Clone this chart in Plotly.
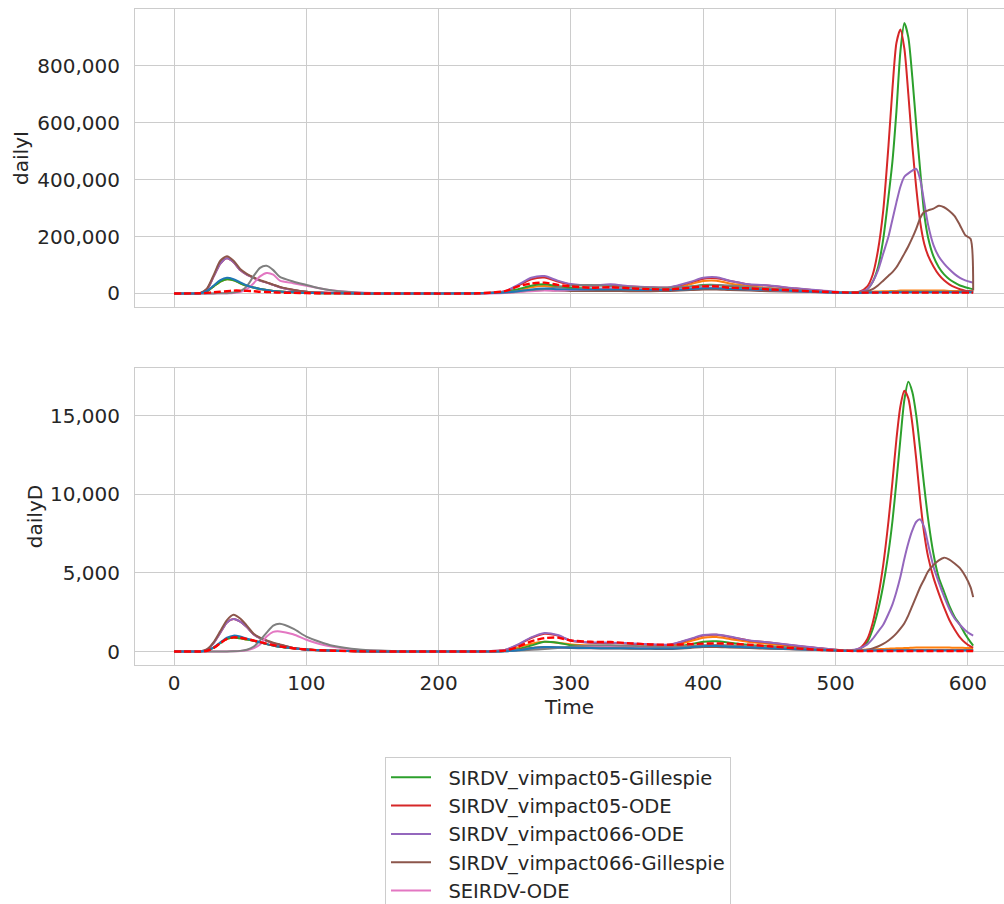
import plotly.graph_objects as go

# Simulation day grid shared by every series
T = [0, 20, 25, 30, 35, 40, 45, 50, 55, 60,
     65, 70, 75, 80, 90, 100, 110, 120, 140, 170,
     230, 250, 260, 270, 280, 290, 300, 315, 330, 345,
     360, 375, 390, 400, 410, 420, 435, 450, 470, 490,
     510, 518, 524, 528, 532, 536, 540, 543, 546, 549,
     552, 555, 558, 561, 564, 567, 570, 574, 578, 582,
     586, 590, 594, 598, 602, 604]

# ---- daily infections (dailyI) ----
green_I = [0, 1000, 8000, 25000, 42000, 50000, 46000, 36000, 27000, 21000,
           16000, 12000, 9000, 7000, 4000, 2000, 1000, 500, 200, 0,
           500, 5000, 15000, 27000, 32000, 25000, 20000, 17000, 17000, 15000,
           14000, 16000, 24000, 30000, 30000, 24000, 18000, 15000, 10000, 5000,
           2000, 4000, 15000, 40000, 90000, 190000, 340000, 465000, 640000, 850000,
           950000, 900000, 760000, 590000, 430000, 280000, 195000, 130000, 92000, 67000,
           50000, 38000, 28000, 22000, 17000, 15000]
red_I = [0, 2000, 15000, 60000, 105000, 124000, 110000, 82000, 66000, 55000,
         45000, 38000, 30000, 22000, 12000, 6000, 3000, 1500, 500, 100,
         500, 7000, 27000, 50000, 56000, 42000, 31000, 27000, 30000, 24000,
         21000, 21000, 38000, 52000, 53000, 44000, 31000, 27000, 17000, 9000,
         2000, 6000, 25000, 65000, 150000, 290000, 520000, 720000, 880000, 928000,
         860000, 700000, 520000, 370000, 250000, 175000, 132000, 95000, 66000, 46000,
         32000, 22000, 15000, 10000, 8000, 7000]
purple_I = [0, 2000, 15000, 60000, 105000, 124000, 110000, 82000, 66000, 55000,
            45000, 38000, 30000, 22000, 12000, 6000, 3000, 1500, 500, 100,
            500, 8000, 30000, 55000, 61000, 45000, 33000, 28000, 32000, 25000,
            22000, 22000, 40000, 55000, 57000, 45000, 32000, 28000, 18000, 10000,
            4000, 6000, 15000, 40000, 80000, 140000, 200000, 260000, 320000, 375000,
            410000, 422000, 432000, 438000, 400000, 320000, 240000, 170000, 130000, 105000,
            85000, 68000, 55000, 46000, 40000, 38000]
brown_I = [0, 2000, 18000, 65000, 115000, 131000, 115000, 86000, 69000, 57000,
           47000, 39000, 31000, 23000, 13000, 6000, 3000, 1500, 500, 100,
           300, 3000, 6000, 10000, 12000, 10000, 9000, 9000, 9000, 8000,
           8000, 9000, 12000, 14000, 14000, 12000, 10000, 8000, 6000, 4000,
           3000, 5000, 8000, 15000, 28000, 45000, 62000, 75000, 92000, 115000,
           140000, 166000, 195000, 228000, 265000, 287000, 292000, 298000, 308000, 303000,
           290000, 272000, 240000, 205000, 192000, 10000]
pink_I = [0, 0, 0, 200, 500, 1000, 2000, 5000, 15000, 35000,
          60000, 72000, 66000, 45000, 36000, 27000, 18000, 10000, 3000, 500,
          200, 2000, 5000, 8000, 10000, 10000, 12000, 15000, 18000, 17000,
          15000, 15000, 18000, 20000, 20000, 18000, 15000, 12000, 8000, 4000,
          2000, 2000, 3000, 3000, 4000, 4000, 5000, 5000, 5000, 5000,
          5000, 5000, 5000, 5000, 5000, 5000, 5000, 5000, 5000, 5000,
          5000, 5000, 5000, 5000, 5000, 5000]
gray_I = [0, 0, 0, 200, 500, 1000, 3000, 8000, 25000, 60000,
          90000, 97000, 82000, 58000, 42000, 30000, 18000, 10000, 2500, 500,
          500, 4000, 8000, 12000, 16000, 22000, 28000, 30000, 26000, 22000,
          20000, 20000, 24000, 28000, 30000, 28000, 22000, 18000, 12000, 6000,
          3000, 3000, 4000, 4000, 5000, 5000, 5000, 6000, 6000, 6000,
          6000, 6000, 6000, 6000, 6000, 6000, 6000, 6000, 6000, 6000,
          6000, 6000, 6000, 6000, 6000, 6000]
blue_I = [0, 1000, 9000, 28000, 47000, 55000, 50000, 39000, 28000, 21000,
          16000, 12000, 9000, 7000, 4000, 2000, 1000, 500, 200, 0,
          300, 3000, 8000, 14000, 17000, 15000, 14000, 14000, 14000, 13000,
          12000, 12000, 15000, 18000, 18000, 16000, 14000, 12000, 8000, 4000,
          2000, 2000, 3000, 3000, 3000, 3000, 4000, 4000, 4000, 4000,
          4000, 4000, 4000, 4000, 4000, 4000, 4000, 4000, 4000, 4000,
          4000, 4000, 4000, 4000, 4000, 4000]
orange_I = [0, 1000, 8000, 25000, 42000, 50000, 46000, 36000, 27000, 21000,
            16000, 12000, 9000, 7000, 4000, 2000, 1000, 500, 200, 0,
            300, 4000, 12000, 22000, 26000, 22000, 18000, 16000, 16000, 14000,
            14000, 16000, 32000, 44000, 45000, 35000, 25000, 18000, 12000, 6000,
            3000, 4000, 5000, 6000, 7000, 8000, 8000, 9000, 9000, 10000,
            10000, 10000, 10000, 10000, 10000, 10000, 10000, 10000, 10000, 10000,
            9000, 9000, 9000, 9000, 8000, 8000]
reported_I = [0, 500, 2000, 4000, 6000, 8000, 10000, 10000, 9000, 8000,
              6000, 5000, 4000, 3000, 2000, 1000, 500, 300, 100, 0,
              500, 8000, 25000, 35000, 38000, 30000, 25000, 20000, 22000, 18000,
              15000, 14000, 20000, 25000, 25000, 20000, 18000, 14000, 10000, 6000,
              3000, 3000, 3000, 3000, 3000, 3000, 3000, 3000, 3000, 3000,
              3000, 3000, 3000, 3000, 3000, 3000, 3000, 3000, 3000, 3000,
              3000, 3000, 3000, 3000, 3000, 3000]

# ---- daily deaths (dailyD) ----
green_D = [0, 5, 55, 240, 540, 800, 890, 840, 760, 680,
           580, 470, 380, 300, 200, 120, 80, 50, 15, 3,
           2, 30, 150, 380, 620, 560, 400, 330, 300, 280,
           270, 280, 450, 620, 650, 560, 420, 330, 220, 120,
           50, 150, 600, 1400, 2600, 4200, 6300, 8300, 10800, 13500,
           16000, 17150, 16500, 15000, 12800, 10500, 8400, 6200, 4700, 3800,
           2900, 2200, 1700, 1100, 600, 380]
red_D = [0, 10, 120, 550, 1200, 1850, 2070, 1900, 1550, 1100,
         850, 680, 530, 420, 220, 120, 75, 45, 15, 3,
         5, 90, 420, 860, 1130, 1010, 680, 560, 540, 500,
         440, 430, 770, 1010, 1060, 930, 690, 570, 370, 190,
         50, 200, 800, 1800, 3400, 5500, 8300, 10800, 13500, 15600,
         16580, 16100, 14500, 12200, 9600, 7500, 6000, 4700, 3700, 2800,
         2000, 1400, 900, 550, 320, 250]
purple_D = [0, 10, 120, 550, 1200, 1850, 2070, 1900, 1550, 1100,
            850, 680, 530, 420, 220, 120, 75, 45, 15, 3,
            5, 100, 450, 900, 1180, 1050, 700, 580, 560, 520,
            460, 450, 800, 1050, 1080, 950, 700, 580, 380, 200,
            80, 200, 450, 800, 1250, 1700, 2400, 3000, 3800, 4750,
            5900, 6900, 7700, 8250, 8400, 7900, 6800, 5400, 4400, 3500,
            2700, 2100, 1700, 1350, 1100, 1010]
brown_D = [0, 10, 150, 600, 1300, 2000, 2340, 2100, 1650, 1150,
           880, 700, 560, 450, 230, 130, 80, 50, 15, 3,
           3, 40, 120, 220, 280, 260, 220, 200, 190, 180,
           170, 160, 230, 280, 290, 260, 220, 180, 130, 80,
           40, 60, 120, 200, 320, 480, 700, 900, 1150, 1450,
           1800, 2300, 2900, 3500, 4100, 4600, 5100, 5500, 5800, 5970,
           5850, 5600, 5300, 4800, 4100, 3460]
pink_D = [0, 0, 0, 1, 3, 6, 12, 30, 80, 200,
          450, 950, 1250, 1280, 1100, 750, 480, 300, 90, 15,
          5, 30, 80, 140, 200, 240, 280, 330, 330, 300,
          280, 280, 330, 380, 390, 360, 310, 260, 180, 100,
          50, 50, 60, 60, 70, 70, 80, 80, 80, 80,
          80, 80, 80, 80, 80, 80, 80, 80, 80, 80,
          80, 80, 80, 80, 80, 80]
gray_D = [0, 0, 0, 1, 3, 6, 15, 40, 110, 300,
          700, 1200, 1650, 1760, 1450, 950, 620, 360, 120, 20,
          5, 20, 60, 110, 160, 220, 300, 380, 400, 360,
          320, 310, 350, 400, 420, 400, 350, 300, 210, 120,
          60, 70, 80, 80, 90, 90, 100, 100, 100, 100,
          100, 100, 100, 100, 100, 100, 100, 100, 100, 100,
          100, 100, 100, 100, 100, 100]
blue_D = [0, 5, 60, 260, 580, 880, 1010, 950, 820, 700,
          580, 470, 380, 300, 200, 125, 80, 50, 15, 3,
          2, 20, 80, 200, 280, 270, 240, 220, 210, 200,
          190, 190, 260, 340, 350, 310, 260, 210, 150, 90,
          40, 50, 60, 60, 70, 70, 70, 70, 70, 70,
          70, 70, 70, 70, 70, 70, 70, 70, 70, 70,
          70, 70, 70, 70, 70, 70]
orange_D = [0, 5, 55, 240, 540, 800, 890, 840, 760, 680,
            580, 470, 380, 300, 200, 120, 80, 50, 15, 3,
            2, 60, 250, 500, 620, 560, 450, 380, 360, 330,
            320, 330, 650, 880, 920, 800, 600, 480, 330, 180,
            80, 100, 120, 140, 150, 160, 180, 190, 200, 210,
            220, 230, 240, 250, 250, 250, 250, 250, 250, 250,
            250, 240, 240, 230, 230, 230]
reported_D = [0, 5, 50, 230, 530, 800, 900, 880, 800, 700,
              600, 500, 410, 330, 210, 130, 80, 50, 15, 3,
              3, 60, 300, 650, 850, 880, 700, 620, 600, 520,
              450, 430, 470, 500, 520, 500, 430, 330, 200, 100,
              40, 35, 35, 35, 35, 35, 35, 35, 35, 35,
              35, 35, 35, 35, 35, 35, 35, 35, 35, 35,
              35, 35, 35, 35, 35, 35]

# Tick positions
x_ticks = [0, 100, 200, 300, 400, 500, 600]
yI_ticks = [0, 200000, 400000, 600000, 800000]
yD_ticks = [0, 5000, 10000, 15000]

# (name, colour, dash, legend rank, dailyI, dailyD) in drawing order
series = [
    ("SIRD-ODE", "#ff7f0e", "solid", 8, orange_I, orange_D),
    ("SIRDV_vimpact05-Gillespie", "#2ca02c", "solid", 1, green_I, green_D),
    ("SIRDV_vimpact05-ODE", "#d62728", "solid", 2, red_I, red_D),
    ("SIRDV_vimpact066-ODE", "#9467bd", "solid", 3, purple_I, purple_D),
    ("SIRDV_vimpact066-Gillespie", "#8c564b", "solid", 4, brown_I, brown_D),
    ("SEIRDV-ODE", "#e377c2", "solid", 5, pink_I, pink_D),
    ("SEIRDV-Gillespie", "#7f7f7f", "solid", 6, gray_I, gray_D),
    ("SIRD-Gillespie", "#1f77b4", "solid", 7, blue_I, blue_D),
    ("Reported", "#ff0000", "7px,3px", 9, reported_I, reported_D),
]

W, H = 1004, 1100
TOP, BOTTOM = 9, 665
plot_h = BOTTOM - TOP
PAD = "\u00a0\u00a0"  # gap between legend line sample and label

fig = go.Figure()
for name, color, dash, rank, yi, yd in series:
    width = 2.4 if dash != "solid" else 2
    line = dict(color=color, width=width, dash=dash, shape="spline", smoothing=0.7)
    fig.add_trace(go.Scatter(x=T, y=yi, mode="lines", name=PAD + name, line=line,
                             legendgroup=name, legendrank=rank,
                             xaxis="x", yaxis="y"))
    fig.add_trace(go.Scatter(x=T, y=yd, mode="lines", name=PAD + name, line=line,
                             legendgroup=name, showlegend=False,
                             xaxis="x2", yaxis="y2"))

grid = "#cccccc"
text_col = "#262626"
font = dict(family="DejaVu Sans", size=20, color=text_col)
legend_font = dict(family="DejaVu Sans", size=19.5, color=text_col)

common_x = dict(range=[-29.5, 627.3], tickvals=x_ticks, showgrid=True, gridcolor=grid,
                gridwidth=1, zeroline=False, showline=True, linecolor=grid, linewidth=1,
                mirror=True, ticks="")
common_y = dict(showgrid=True, gridcolor=grid, gridwidth=1, zeroline=False,
                showline=True, linecolor=grid, linewidth=1, tickformat=",d",
                ticks="outside", ticklen=10, tickcolor="rgba(0,0,0,0)")

fig.update_layout(
    width=W, height=H,
    margin=dict(l=135, r=0, t=TOP, b=H - BOTTOM),
    paper_bgcolor="white", plot_bgcolor="white",
    font=font,
    xaxis=dict(common_x, domain=[0, 1], anchor="y", showticklabels=False, matches="x2"),
    xaxis2=dict(common_x, domain=[0, 1], anchor="y2",
                title=dict(text="Time", standoff=3, font=font)),
    yaxis=dict(common_y, domain=[(BOTTOM - 307) / plot_h, 1], anchor="x",
               range=[-47600, 999600], tickvals=yI_ticks,
               title=dict(text="dailyI", standoff=3, font=font)),
    yaxis2=dict(common_y, domain=[0, (BOTTOM - 368) / plot_h], anchor="x2",
                range=[-858, 18030], tickvals=yD_ticks,
                title=dict(text="dailyD", standoff=2, font=font)),
    legend=dict(x=(385 - 135) / 869, y=(BOTTOM - 757) / plot_h, xanchor="left",
                yanchor="top", bgcolor="white", bordercolor=grid, borderwidth=1,
                font=legend_font, traceorder="grouped", tracegroupgap=0, itemwidth=40),
    showlegend=True,
)

fig.write_html("out.html")
